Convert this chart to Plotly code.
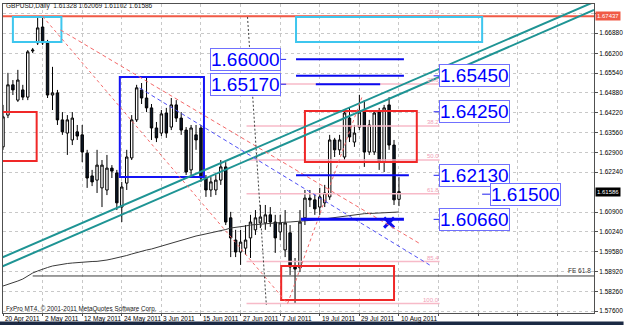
import plotly.graph_objects as go

# ---------------- data (GBPUSD daily, bar index 0 = 20 Apr 2011) ----------------
opens = [1.6308,1.6414,1.6515,1.6464,1.6498,1.6474,1.6628,1.6655,1.6708,1.6655,
 1.6481,1.6488,1.6398,1.6354,1.6331,1.6358,1.6348,1.6287,1.6211,1.6197,
 1.6171,1.6164,1.6237,1.6221,1.6107,1.6187,1.6271,1.6398,1.6498,1.6471,
 1.6438,1.6371,1.6354,1.6421,1.6374,1.6448,1.6404,1.6364,1.6231,1.6348,
 1.6371,1.6204,1.6164,1.6164,1.6197,1.6241,1.6071,1.5997,1.5957,1.5970,
 1.6004,1.6031,1.6054,1.6054,1.6081,1.6057,1.6024,1.5964,1.6021,1.5907,
 1.5904,1.6071,1.6137,1.6131,1.6107,1.6121,1.6141,1.6331,1.6298,1.6274,
 1.6404,1.6324,1.6374,1.6424,1.6291,1.6291,1.6424,1.6257,1.6448,1.6314,
 1.61328]
highs = [1.6448,1.6555,1.6531,1.6565,1.6515,1.6631,1.6638,1.6738,1.67437,1.6665,
 1.6575,1.6498,1.6424,1.6414,1.6424,1.6381,1.6381,1.6298,1.6231,1.6298,
 1.6264,1.6281,1.6247,1.6231,1.6191,1.6298,1.6414,1.6515,1.6521,1.6541,
 1.6451,1.6391,1.6431,1.6438,1.6471,1.6464,1.6424,1.6374,1.6381,1.6381,
 1.6381,1.6214,1.6207,1.6214,1.6264,1.6257,1.6091,1.6031,1.6031,1.6047,
 1.6081,1.6097,1.6114,1.6114,1.6107,1.6081,1.6081,1.6097,1.6047,1.5937,
 1.6097,1.6164,1.6164,1.6154,1.6171,1.6181,1.6348,1.6338,1.6348,1.6431,
 1.6438,1.6381,1.6481,1.6464,1.6398,1.6431,1.6438,1.6448,1.6474,1.6331,
 1.62069]
lows = [1.6298,1.6404,1.6481,1.6458,1.6464,1.6464,1.6621,1.6648,1.6648,1.6471,
 1.6431,1.6381,1.6348,1.6281,1.6314,1.6331,1.6257,1.6171,1.6177,1.6154,
 1.6107,1.6147,1.6204,1.6097,1.6057,1.6164,1.6264,1.6391,1.6451,1.6424,
 1.6331,1.6324,1.6344,1.6338,1.6364,1.6391,1.6348,1.6214,1.6214,1.6298,
 1.6191,1.6141,1.6141,1.6147,1.6181,1.6047,1.5940,1.5940,1.5914,1.5947,
 1.5937,1.6014,1.6037,1.6031,1.6041,1.5954,1.5997,1.5940,1.5880,1.5785,
 1.5890,1.6047,1.6107,1.6081,1.6081,1.6107,1.6131,1.6274,1.6281,1.6264,
 1.6324,1.6308,1.6364,1.6241,1.6281,1.6281,1.6231,1.6224,1.6298,1.6114,
 1.61102]
closes = [1.6408,1.6515,1.6498,1.6531,1.6474,1.6625,1.6631,1.6705,1.6655,1.6481,
 1.6488,1.6398,1.6358,1.6398,1.6404,1.6344,1.6291,1.6204,1.6191,1.6247,
 1.6247,1.6237,1.6227,1.6121,1.6174,1.6274,1.6398,1.6505,1.6471,1.6438,
 1.6371,1.6338,1.6418,1.6354,1.6448,1.6404,1.6364,1.6224,1.6371,1.6331,
 1.6204,1.6164,1.6191,1.6197,1.6241,1.6057,1.6004,1.5957,1.5990,1.5997,
 1.6057,1.6071,1.6074,1.6081,1.6057,1.6004,1.6054,1.6054,1.5907,1.5900,
 1.6057,1.6137,1.6131,1.6101,1.6141,1.6154,1.6331,1.6298,1.6331,1.6421,
 1.6341,1.6354,1.6424,1.6291,1.6381,1.6421,1.6257,1.6438,1.6314,1.6131,
 1.61586]
moving_avg = [1.58435,1.58485,1.58535,1.58602,1.58669,1.58769,1.58869,1.58936,1.59003,1.59053,
 1.59103,1.59136,1.59170,1.59186,1.59203,1.59220,1.59236,1.59240,1.59253,1.59258,
 1.59270,1.59303,1.59337,1.59370,1.59403,1.59453,1.59503,1.59554,1.59604,1.59637,
 1.59670,1.59720,1.59771,1.59821,1.59871,1.59921,1.59971,1.60021,1.60071,1.60104,
 1.60138,1.60171,1.60204,1.60238,1.60271,1.60321,1.60371,1.60388,1.60405,1.60438,
 1.60471,1.60488,1.60505,1.60522,1.60538,1.60548,1.60555,1.60565,1.60572,1.60582,
 1.60588,1.60605,1.60622,1.60638,1.60655,1.60678,1.60705,1.60722,1.60739,1.60765,
 1.60789,1.60815,1.60839,1.60849,1.60855,1.60865,1.60872,1.60882,1.60889,1.60899,
 1.60905]
bars = list(range(len(opens)))

x_tick_bars = [0, 8, 16, 24, 32, 40, 48, 56, 64, 72, 80]
x_tick_labels = ["20 Apr 2011", "2 May 2011", "12 May 2011", "24 May 2011", "3 Jun 2011",
                 "15 Jun 2011", "27 Jun 2011", "7 Jul 2011", "19 Jul 2011", "29 Jul 2011", "10 Aug 2011"]
x_grid_bars = [0, 8, 16, 24, 32, 40, 48, 56, 64, 72, 80, 88, 96, 104, 112]
y_tick_vals = [1.6754, 1.6688, 1.6620, 1.6554, 1.6488, 1.6422, 1.6356, 1.6290, 1.6224,
               1.6090, 1.6024, 1.5958, 1.5892, 1.5826, 1.5760]
# top tick (1.67540) is hidden behind the red level label in the reference
y_tick_text = ["", "1.66880", "1.66200", "1.65540", "1.64880", "1.64220", "1.63560",
               "1.62900", "1.62240", "1.60900", "1.60240", "1.59580", "1.58920", "1.58260", "1.57600"]

header = "GBPUSD,Daily  1.61328 1.62069 1.61102 1.61586"
copyright_text = "FxPro MT4, \u00a9 2001-2011 MetaQuotes Software Corp."
last_price = 1.61586
top_level = 1.67437
fe_level = 1.5877
fe_label = "FE 61.8"

# Fibonacci retracement (high -> low)
fib_high, fib_low = 1.67437, 1.5785
fib_ratios = [0.0, 23.6, 38.2, 50.0, 61.8, 85.4, 100.0]
fib_labels = ["0.0", "23.6", "38.2", "50.0", "61.8", "85.4", "100.0"]
fib_span = [49.2, 88.2]

# Price label boxes: (text, bar position, price, leader x0, leader x1)
price_labels = [
    ("1.66000", 49.0, 1.6600, 56.0, 57.2),
    ("1.65170", 49.0, 1.6517, 56.0, 57.2),
    ("1.65450", 95.2, 1.6545, 87.0, 88.2),
    ("1.64250", 95.2, 1.6425, 87.0, 88.2),
    ("1.62130", 95.2, 1.6213, 87.0, 88.2),
    ("1.61500", 105.6, 1.6150, 96.8, 98.6),
    ("1.60660", 95.2, 1.6066, 87.0, 88.2),
]
# Horizontal blue levels: (price, from bar, to bar, width)
blue_levels = [(1.6600, 59.2, 81.0, 2), (1.6545, 59.2, 81.0, 2), (1.6517, 63.2, 76.2, 2),
               (1.6213, 59.2, 82.0, 2), (1.6066, 60.2, 81.0, 3)]
cross_mark = (78.0, 1.6055)

# Rectangles: (x0, x1, y0, y1, colour)
boxes = [
    (2.0, 11.8, 1.67415, 1.66580, "#3EC6EE"),
    (59.2, 96.8, 1.67415, 1.66580, "#3EC6EE"),
    (-0.6, 6.8, 1.64243, 1.62608, "#F02828"),
    (23.6, 40.6, 1.65412, 1.62074, "#1414F5"),
    (61.0, 83.6, 1.64277, 1.62574, "#F02828"),
    (56.2, 79.0, 1.59103, 1.57968, "#F02828"),
]
# Trend / tool lines: (x0, y0, x1, y1, colour, width, dash)
tool_lines = [
    (-0.4, 1.5937, 119.4, 1.67915, "#1E9494", 2, "solid"),
    (-0.4, 1.5907, 119.4, 1.67648, "#1E9494", 2, "solid"),
    (8.0, 1.67437, 57.5, 1.5785, "#F46A6A", 1, "3px,3px"),
    (57.5, 1.5785, 72.6, 1.6478, "#F46A6A", 1, "3px,3px"),
    (11.6, 1.66981, 84.0, 1.59871, "#F46A6A", 1, "4px,3px"),
    (27.6, 1.65045, 86.2, 1.59136, "#5050F5", 1, "4px,3px"),
    (49.4, 1.67415, 53.2, 1.57801, "#404040", 1, "2px,2px"),
]

# ---------------- figure ----------------
W, H = 625, 325
ML, MR, MT, MB = 2, 26, 4, 12
FONT = "Liberation Sans"

fig = go.Figure()
fig.add_trace(go.Scatter(x=bars, y=moving_avg, mode="lines",
                         line=dict(color="#3A3A3A", width=1), hoverinfo="skip", showlegend=False))
fig.add_trace(go.Candlestick(
    x=bars, open=opens, high=highs, low=lows, close=closes,
    increasing=dict(line=dict(color="#000000", width=1), fillcolor="#FFFFFF"),
    decreasing=dict(line=dict(color="#000000", width=1), fillcolor="#0B1626"),
    whiskerwidth=0, hoverinfo="skip", showlegend=False))

shapes = []
rng = fib_high - fib_low
for r in fib_ratios:
    lvl = fib_high - rng * r / 100.0
    shapes.append(dict(type="line", xref="x", yref="y", x0=fib_span[0], x1=fib_span[1],
                       y0=lvl, y1=lvl, line=dict(color="#F7BAC8", width=1.5)))
shapes.append(dict(type="line", xref="x", yref="y", x0=6.0, x1=119.4, y0=fe_level, y1=fe_level,
                   line=dict(color="#3C3C3C", width=1)))
shapes.append(dict(type="line", xref="x", yref="y", x0=-1, x1=119.4, y0=top_level, y1=top_level,
                   line=dict(color="#F05A46", width=2)))
for (x0, x1, y0, y1, col) in boxes:
    shapes.append(dict(type="rect", xref="x", yref="y", x0=x0, x1=x1, y0=y0, y1=y1,
                       line=dict(color=col, width=2), fillcolor="rgba(0,0,0,0)"))
for (x0, y0, x1, y1, col, w, d) in tool_lines:
    shapes.append(dict(type="line", xref="x", yref="y", x0=x0, y0=y0, x1=x1, y1=y1,
                       line=dict(color=col, width=w, dash=d)))
for (p, x0, x1, w) in blue_levels:
    shapes.append(dict(type="line", xref="x", yref="y", x0=x0, x1=x1, y0=p, y1=p,
                       line=dict(color="#0A0AF0", width=w)))
for (t, xc, p, lx0, lx1) in price_labels:
    shapes.append(dict(type="line", xref="x", yref="y", x0=lx0, x1=lx1, y0=p, y1=p,
                       line=dict(color="#2020F0", width=1)))
shapes.append(dict(type="rect", xref="paper", yref="paper", x0=-0.01, x1=1.05,
                   y0=-(MB + 0.5) / (H - MT - MB), y1=-(MB - 3.5) / (H - MT - MB),
                   line=dict(width=0), fillcolor="#1C2A44", layer="above"))

fig.add_trace(go.Scatter(x=[cross_mark[0]], y=[cross_mark[1]], mode="markers",
                         marker=dict(symbol="x-thin", size=10, line=dict(color="#1010F0", width=3)),
                         hoverinfo="skip", showlegend=False))

ann = []
for (t, xc, p, lx0, lx1) in price_labels:
    ann.append(dict(x=xc, y=p, xref="x", yref="y", text=t, showarrow=False,
                    xanchor="center", yanchor="middle",
                    font=dict(family=FONT, size=19, color="#0000FF"),
                    bgcolor="#FFFFFF", bordercolor="#7070FF", borderwidth=1, borderpad=0))
for r, lab in zip(fib_ratios, fib_labels):
    lvl = fib_high - rng * r / 100.0
    ann.append(dict(x=fib_span[1], y=lvl, xref="x", yref="y", text=lab, showarrow=False,
                    xanchor="right", yanchor="bottom", font=dict(family=FONT, size=6, color="#F0A0B6"),
                    borderpad=0))
ann.append(dict(x=119.2, y=fe_level, xref="x", yref="y", text=fe_label, showarrow=False,
                xanchor="right", yanchor="bottom", font=dict(family=FONT, size=6.5, color="#303030")))
for b, lab in zip(x_tick_bars, x_tick_labels):
    ann.append(dict(x=b, y=-5.5 / (H - MT - MB), xref="x", yref="paper", text=lab, showarrow=False,
                    xanchor="left", yanchor="middle", font=dict(family=FONT, size=6.5, color="#000000")))
ann.append(dict(x=0.002, y=1 - 2.5 / (H - MT - MB), xref="paper", yref="paper", text=header,
                showarrow=False, xanchor="left", yanchor="middle",
                font=dict(family=FONT, size=6.5, color="#202020")))
ann.append(dict(x=0.002, y=4.5 / (H - MT - MB), xref="paper", yref="paper", text=copyright_text,
                showarrow=False, xanchor="left", yanchor="middle",
                font=dict(family=FONT, size=6.3, color="#202020")))
for p, bg in [(top_level, "#F05A46"), (last_price, "#000000")]:
    ann.append(dict(x=1.0017, y=p, xref="paper", yref="y", text=f"{p:.5f}", showarrow=False,
                    xanchor="left", yanchor="middle", bgcolor=bg, borderpad=1,
                    font=dict(family=FONT, size=6, color="#FFFFFF")))

fig.update_layout(
    width=W, height=H, margin=dict(l=ML, r=MR, t=MT, b=MB, pad=0),
    paper_bgcolor="#FFFFFF", plot_bgcolor="#FFFFFF",
    showlegend=False, hovermode=False,
    shapes=shapes, annotations=ann,
    xaxis=dict(range=[0, 119.4], tickvals=x_grid_bars, ticktext=[""] * len(x_grid_bars),
               showgrid=True, gridcolor="#C8C8C8", griddash="dot", gridwidth=1,
               zeroline=False, showline=True, linecolor="#505050", mirror=True,
               ticks="outside", ticklen=2, tickcolor="#505050",
               rangeslider=dict(visible=False), fixedrange=True),
    yaxis=dict(range=[1.57534, 1.67848], side="right", tickvals=y_tick_vals, ticktext=y_tick_text,
               showgrid=True, gridcolor="#C8C8C8", griddash="dot", gridwidth=1,
               zeroline=False, showline=True, linecolor="#505050", mirror=True,
               ticks="outside", ticklen=3, tickcolor="#505050",
               tickfont=dict(family=FONT, size=6.5, color="#000000"), fixedrange=True),
)

fig.write_html("out.html")
